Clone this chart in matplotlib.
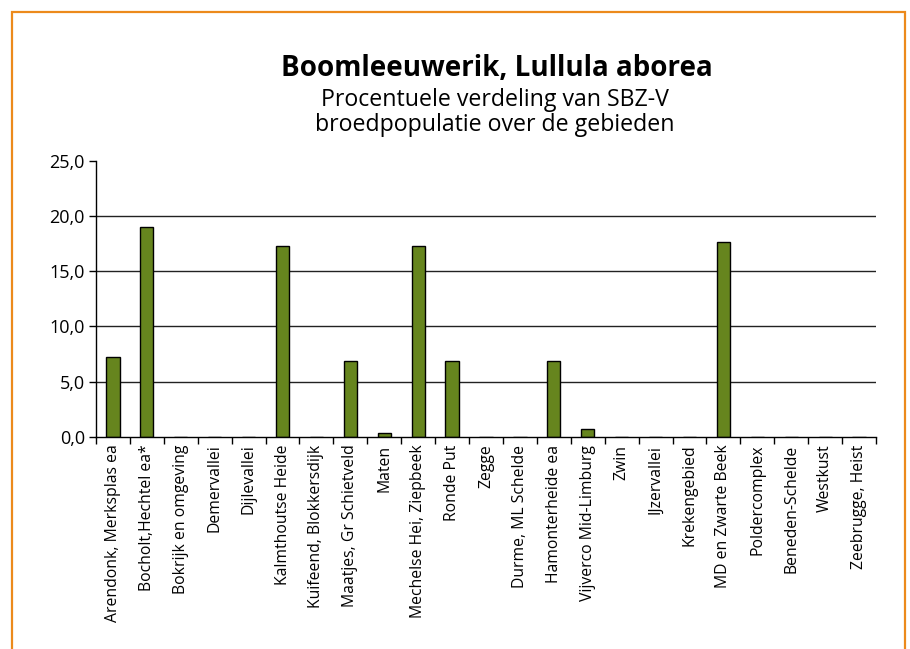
import matplotlib
matplotlib.use("Agg")
import matplotlib.pyplot as plt
from matplotlib.patches import Rectangle
import numpy as np

categories = ["Arendonk, Merksplas ea", "Bocholt,Hechtel ea*", "Bokrijk en omgeving",
              "Demervallei", "Dijlevallei", "Kalmthoutse Heide", "Kuifeend, Blokkersdijk",
              "Maatjes, Gr Schietveld", "Maten", "Mechelse Hei, Ziepbeek", "Ronde Put",
              "Zegge", "Durme, ML Schelde", "Hamonterheide ea", "Vijverco Mid-Limburg",
              "Zwin", "IJzervallei", "Krekengebied", "MD en Zwarte Beek", "Poldercomplex",
              "Beneden-Schelde", "Westkust", "Zeebrugge, Heist"]
values = [7.24, 18.97, 0, 0, 0, 17.24, 0, 6.90, 0.34, 17.24, 6.90, 0, 0, 6.90, 0.69,
          0, 0, 0, 17.59, 0, 0, 0, 0]
yticks = [0, 5, 10, 15, 20, 25]
ytick_labels = ["0,0", "5,0", "10,0", "15,0", "20,0", "25,0"]
title = "Boomleeuwerik, Lullula aborea"
subtitle_lines = ["Procentuele verdeling van SBZ-V", "broedpopulatie over de gebieden"]

plt.rcParams['font.family'] = ['Open Sans', 'DejaVu Sans']

W, H = 910, 649
fig = plt.figure(figsize=(W / 100, H / 100), dpi=100)
ax = fig.add_axes([96 / W, 1 - 437 / H, (876 - 96) / W, (437 - 160.5) / H])

n = len(categories)
x = np.arange(n)
ax.bar(x, values, width=0.39, color="#66851E", edgecolor="black", linewidth=1.0, zorder=2)

ax.set_xlim(-0.5, n - 0.5)
ax.set_ylim(0, 25)
ax.set_yticks(yticks)
ax.set_yticklabels(ytick_labels, fontsize=13)
for v in yticks[1:-1]:
    ax.axhline(v, color="#222222", linewidth=1.0, zorder=1)

ax.set_xticks(x)
ax.set_xticklabels(categories, rotation=90, fontsize=11.3)
ax.tick_params(axis="x", length=0, pad=5.5)
ax.set_xticks(np.arange(n + 1) - 0.5, minor=True)
ax.tick_params(axis="x", which="minor", length=5, width=1.0, direction="out", color="black")
ax.tick_params(axis="y", length=5, width=1.0, direction="out", pad=3)

for s in ["top", "right"]:
    ax.spines[s].set_visible(False)
ax.spines["left"].set_linewidth(1.0)
ax.spines["bottom"].set_linewidth(1.0)
ax.spines["left"].set_zorder(3)
ax.spines["bottom"].set_zorder(3)

fig.text(497 / W, 1 - 76 / H, title, ha="center", va="baseline", fontsize=20, fontweight="bold")
fig.text(495 / W, 1 - 105.5 / H, subtitle_lines[0], ha="center", va="baseline", fontsize=16.7)
fig.text(495 / W, 1 - 131 / H, subtitle_lines[1], ha="center", va="baseline", fontsize=16.7)

border = Rectangle((12 / W, -0.02), (905 - 12) / W, (1 - 11.5 / H) + 0.02, transform=fig.transFigure,
                   fill=False, edgecolor="#EC8A1C", linewidth=1.6, clip_on=False)
fig.patches.append(border)

fig.savefig("out.png", dpi=100)
